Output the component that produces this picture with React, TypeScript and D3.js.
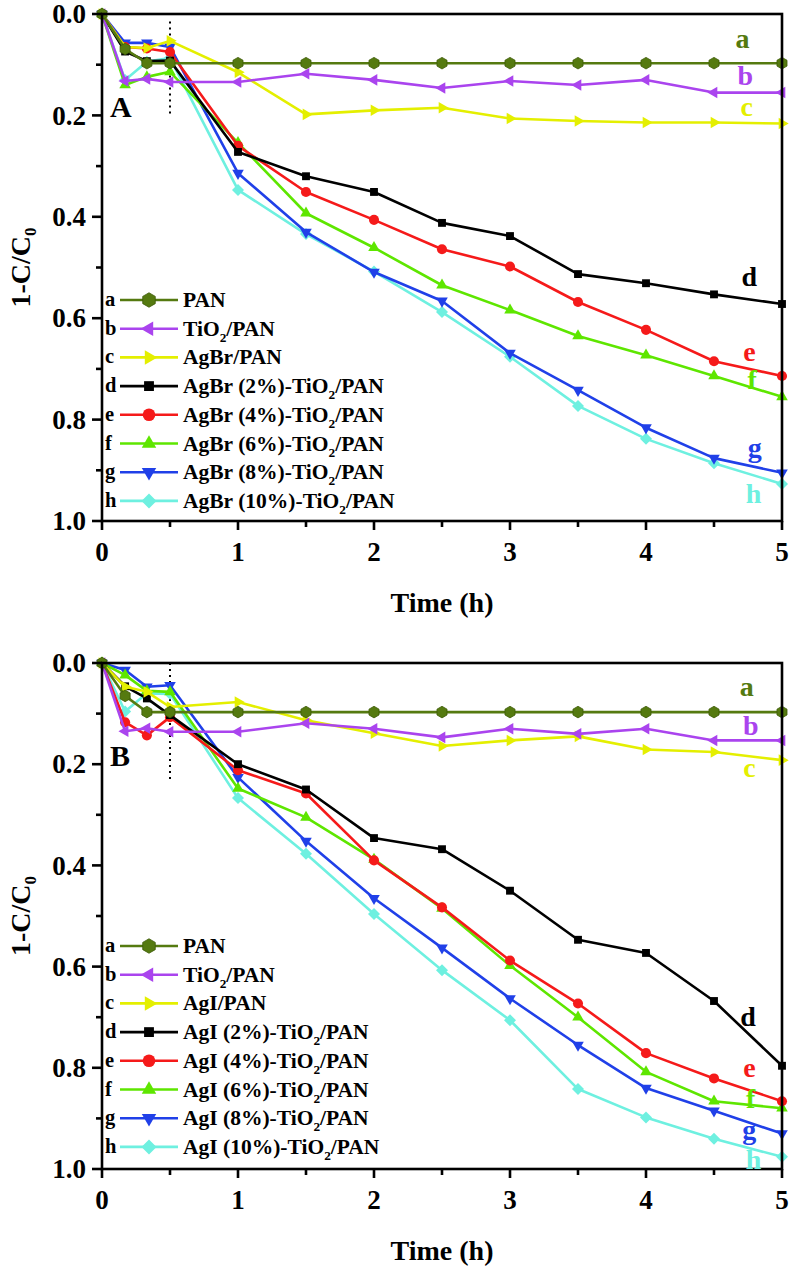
import * as d3 from "d3";
import React from "react";

// sampling times (h)
const times = [0, 0.17, 0.33, 0.5, 1, 1.5, 2, 2.5, 3, 3.5, 4, 4.5, 5];
const letters = ["a", "b", "c", "d", "e", "f", "g", "h"];

// panel A : AgBr series
const agbrNames = [
    "PAN", "TiO2/PAN", "AgBr/PAN",
    "AgBr (2%)-TiO2/PAN", "AgBr (4%)-TiO2/PAN", "AgBr (6%)-TiO2/PAN",
    "AgBr (8%)-TiO2/PAN", "AgBr (10%)-TiO2/PAN",
];
const agbrPAN = [0, 0.069, 0.097, 0.097, 0.097, 0.097, 0.097, 0.097, 0.097, 0.097, 0.097, 0.097, 0.097];
const agbrTiO2 = [0, 0.132, 0.128, 0.134, 0.134, 0.118, 0.13, 0.146, 0.132, 0.14, 0.13, 0.155, 0.155];
const agbrOnly = [0, 0.065, 0.067, 0.053, 0.115, 0.198, 0.19, 0.185, 0.206, 0.211, 0.214, 0.214, 0.216];
const agbr2 = [0, 0.074, 0.093, 0.092, 0.272, 0.32, 0.351, 0.412, 0.438, 0.513, 0.531, 0.553, 0.572];
const agbr4 = [0, 0.065, 0.068, 0.075, 0.26, 0.351, 0.406, 0.464, 0.498, 0.568, 0.623, 0.685, 0.714];
const agbr6 = [0, 0.14, 0.124, 0.114, 0.254, 0.393, 0.461, 0.535, 0.584, 0.635, 0.673, 0.714, 0.755];
const agbr8 = [0, 0.057, 0.057, 0.065, 0.314, 0.43, 0.509, 0.566, 0.669, 0.742, 0.816, 0.876, 0.905];
const agbr10 = [0, 0.13, 0.094, 0.087, 0.347, 0.434, 0.508, 0.588, 0.676, 0.773, 0.838, 0.886, 0.927];
// end labels (time, value)
const agbrLabelAt = [[4.71, 0.051], [4.73, 0.124], [4.74, 0.185], [4.76, 0.519], [4.76, 0.667], [4.78, 0.724], [4.8, 0.858], [4.79, 0.947]];

// panel B : AgI series
const agiNames = [
    "PAN", "TiO2/PAN", "AgI/PAN",
    "AgI (2%)-TiO2/PAN", "AgI (4%)-TiO2/PAN", "AgI (6%)-TiO2/PAN",
    "AgI (8%)-TiO2/PAN", "AgI (10%)-TiO2/PAN",
];
const agiPAN = [0, 0.065, 0.097, 0.097, 0.097, 0.097, 0.097, 0.097, 0.097, 0.097, 0.097, 0.097, 0.097];
const agiTiO2 = [0, 0.135, 0.129, 0.136, 0.136, 0.119, 0.13, 0.147, 0.13, 0.14, 0.13, 0.153, 0.153];
const agiOnly = [0, 0.047, 0.057, 0.087, 0.077, 0.113, 0.139, 0.164, 0.153, 0.145, 0.171, 0.176, 0.192];
const agi2 = [0, 0.046, 0.07, 0.103, 0.2, 0.25, 0.346, 0.368, 0.45, 0.547, 0.573, 0.668, 0.796];
const agi4 = [0, 0.117, 0.143, 0.107, 0.212, 0.258, 0.39, 0.483, 0.588, 0.673, 0.771, 0.821, 0.866];
const agi6 = [0, 0.024, 0.055, 0.057, 0.248, 0.305, 0.388, 0.485, 0.598, 0.7, 0.808, 0.866, 0.88];
const agi8 = [0, 0.014, 0.047, 0.044, 0.226, 0.352, 0.465, 0.563, 0.663, 0.755, 0.84, 0.885, 0.93];
const agi10 = [0, 0.096, 0.06, 0.061, 0.267, 0.377, 0.496, 0.607, 0.706, 0.842, 0.898, 0.94, 0.976];
const agiLabelAt = [[4.74, 0.049], [4.77, 0.126], [4.76, 0.208], [4.75, 0.7], [4.76, 0.802], [4.77, 0.862], [4.76, 0.925], [4.79, 0.984]];

const colors = ["#557a10", "#aa44ee", "#e4ef00", "#000000", "#f51a1a", "#5ee600", "#2040e8", "#6ef0e0"];
const shapes = ["hexagon", "left", "right", "square", "circle", "up", "down", "diamond"];

const FONT = "'Liberation Serif', 'Times New Roman', serif";

const markerPath = (shape: string, big = false) => {
    const k = big ? 1.25 : 1;
    if (shape === "hexagon") {
        const r = 5.8 * k;
        const pts = d3.range(6).map(i => {
            const a = Math.PI / 2 + i * Math.PI / 3;
            return [r * Math.cos(a), r * Math.sin(a)];
        });
        return "M" + pts.map(p => p.join(",")).join("L") + "Z";
    }
    if (shape === "square") return d3.symbol(d3.symbolSquare, 62 * k * k)()!;
    if (shape === "circle") return d3.symbol(d3.symbolCircle, 80 * k * k)()!;
    if (shape === "diamond") return d3.symbol(d3.symbolSquare, 72 * k * k)()!;
    return d3.symbol(d3.symbolTriangle, 58 * k * k)()!;
};
const markerRotate = (shape: string) =>
    shape === "down" ? 180 : shape === "left" ? -90 : shape === "right" ? 90 : shape === "diamond" ? 45 : 0;

const withSub = (name: string, size: number) => {
    const parts = name.split("TiO2");
    if (parts.length === 1) return name;
    return (
        <>
            {parts[0]}TiO
            <tspan fontSize={size * 0.62} dy={size * 0.28}>2</tspan>
            <tspan dy={-size * 0.28}>{parts[1]}</tspan>
        </>
    );
};

interface PanelProps {
    top: number;
    bottom: number;
    series: number[][];
    names: string[];
    labelAt: number[][];
    letter: string;
    dotted: number[];
    legendTop: number;
}

const Panel = ({ top, bottom, series, names, labelAt, letter, dotted, legendTop }: PanelProps) => {
    const x = d3.scaleLinear().domain([0, 5]).range([102, 782]);
    const y = d3.scaleLinear().domain([0, 1]).range([top, bottom]);
    const xMajor = x.ticks(5);
    const xMinor = x.ticks(10).filter(t => !Number.isInteger(t));
    const yMajor = y.ticks(5);
    const yMinor = y.ticks(10).filter(t => !yMajor.some(m => Math.abs(m - t) < 1e-9));
    const line = d3.line<number>().x((_, i) => x(times[i])).y(d => y(d));
    const order = [7, 6, 5, 4, 3, 2, 1, 0];
    const [x0, x1] = x.range();

    return (
        <g fontFamily={FONT} fontWeight="bold">
            {/* dotted divider: dark phase / light phase */}
            <line x1={x(0.5)} x2={x(0.5)} y1={y(dotted[0])} y2={y(dotted[1])}
                  stroke="#000" strokeWidth={2} strokeDasharray="2,4"/>

            {order.map(k => (
                <g key={k}>
                    <path d={line(series[k])!} fill="none" stroke={colors[k]} strokeWidth={2.6}
                          strokeLinejoin="round"/>
                    {series[k].map((v, i) => (
                        <path key={i} d={markerPath(shapes[k])} fill={colors[k]}
                              stroke={k === 0 ? "#3d5a08" : "none"} strokeWidth={0.8}
                              transform={`translate(${x(times[i])},${y(v)}) rotate(${markerRotate(shapes[k])})`}/>
                    ))}
                </g>
            ))}

            {/* frame */}
            <rect x={x0} y={top} width={x1 - x0} height={bottom - top} fill="none" stroke="#000" strokeWidth={2.6}/>

            {/* x ticks */}
            {xMajor.map(t => (
                <g key={"xm" + t}>
                    <line x1={x(t)} x2={x(t)} y1={bottom} y2={bottom + 9} stroke="#000" strokeWidth={2.6}/>
                    <text x={x(t)} y={bottom + 40} textAnchor="middle" fontSize={27}>{t}</text>
                </g>
            ))}
            {xMinor.map(t => (
                <line key={"xn" + t} x1={x(t)} x2={x(t)} y1={bottom} y2={bottom + 6} stroke="#000" strokeWidth={2.6}/>
            ))}
            <text x={442} y={bottom + 91} textAnchor="middle" fontSize={28}>Time (h)</text>

            {/* y ticks */}
            {yMajor.map(t => (
                <g key={"ym" + t}>
                    <line x1={x0 - 10} x2={x0} y1={y(t)} y2={y(t)} stroke="#000" strokeWidth={2.6}/>
                    <text x={x0 - 16} y={y(t)} dy="0.34em" textAnchor="end" fontSize={27}>{t.toFixed(1)}</text>
                </g>
            ))}
            {yMinor.map(t => (
                <line key={"yn" + t} x1={x0 - 6} x2={x0} y1={y(t)} y2={y(t)} stroke="#000" strokeWidth={2.6}/>
            ))}
            <text transform={`translate(30,${(top + bottom) / 2}) rotate(-90)`} textAnchor="middle" fontSize={28}>
                1-C/C<tspan fontSize={17} dy={6}>0</tspan>
            </text>

            {/* panel letter */}
            <text x={x0 + 8} y={top + 103} fontSize={30}>{letter}</text>

            {/* end-of-curve labels */}
            {labelAt.map(([t, v], k) => (
                <text key={"lab" + k} x={x(t)} y={y(v)} dy="0.3em" textAnchor="middle" fontSize={28}
                      fill={colors[k]}>{letters[k]}</text>
            ))}

            {/* legend */}
            {names.map((name, k) => {
                const ry = legendTop + k * 28.7;
                return (
                    <g key={"leg" + k}>
                        <text x={105} y={ry + 6} fontSize={20.5}>{letters[k]}</text>
                        <line x1={120} x2={178} y1={ry} y2={ry} stroke={colors[k]} strokeWidth={2.6}/>
                        <path d={markerPath(shapes[k], true)} fill={colors[k]}
                              stroke={k === 0 ? "#3d5a08" : "none"} strokeWidth={0.8}
                              transform={`translate(149,${ry}) rotate(${markerRotate(shapes[k])})`}/>
                        <text x={183} y={ry + 7} fontSize={21.5}>{withSub(name, 21.5)}</text>
                    </g>
                );
            })}
        </g>
    );
};

export default function App() {
    return (
        <svg width={794} height={1270} style={{ position: "absolute", left: 0, top: 0, background: "#fff" }}>
            <Panel top={14} bottom={521} letter="A" dotted={[0.015, 0.2]} legendTop={300}
                   series={[agbrPAN, agbrTiO2, agbrOnly, agbr2, agbr4, agbr6, agbr8, agbr10]}
                   names={agbrNames} labelAt={agbrLabelAt}/>
            <Panel top={663} bottom={1169} letter="B" dotted={[0, 0.23]} legendTop={946}
                   series={[agiPAN, agiTiO2, agiOnly, agi2, agi4, agi6, agi8, agi10]}
                   names={agiNames} labelAt={agiLabelAt}/>
        </svg>
    );
}
